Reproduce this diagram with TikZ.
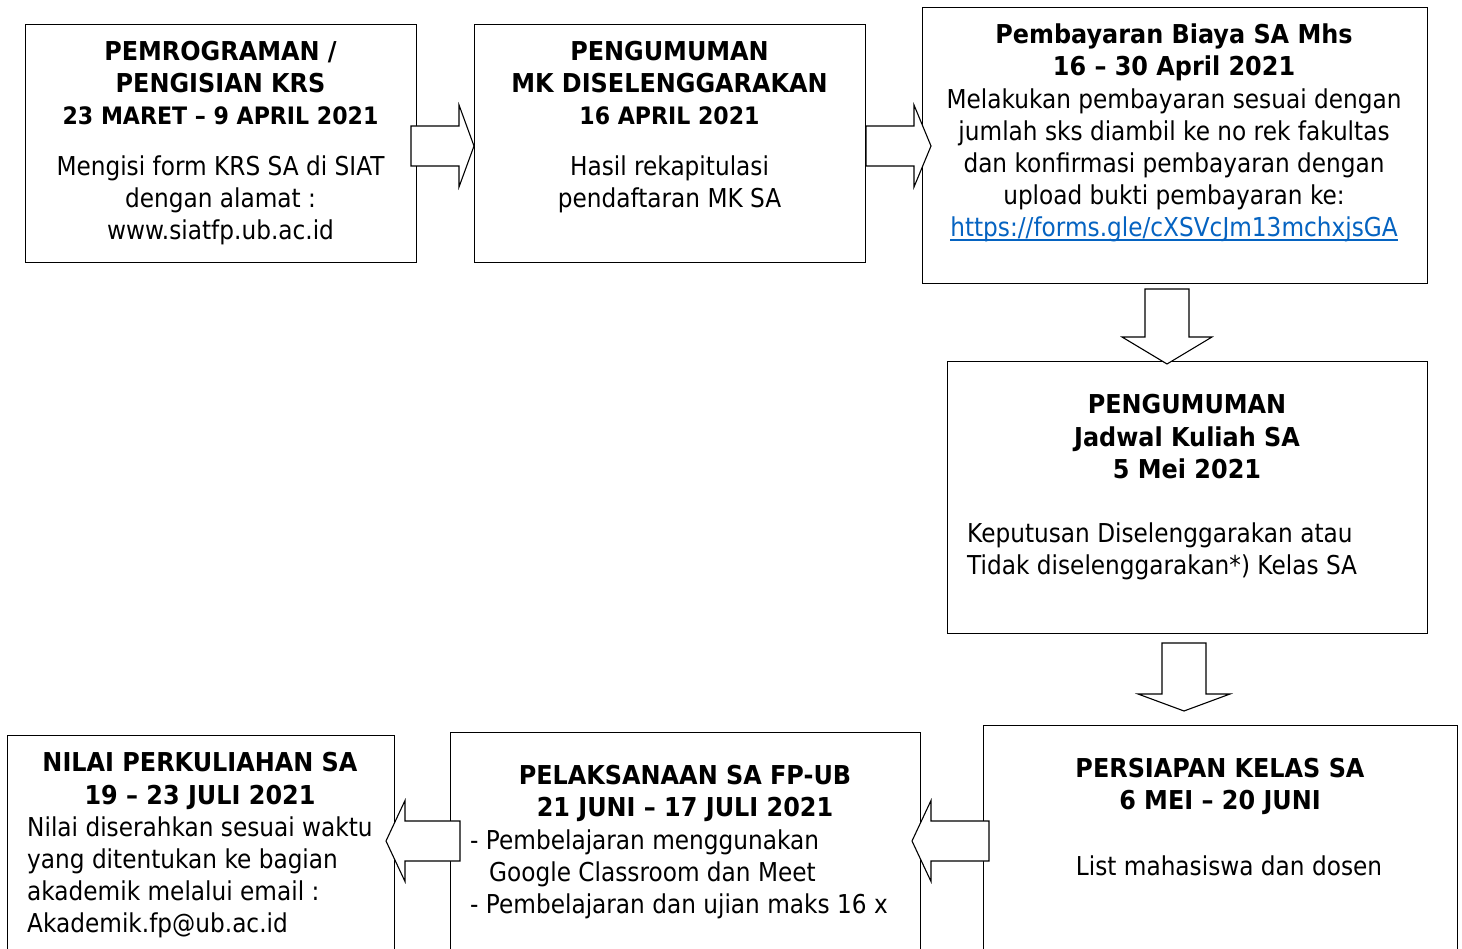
\documentclass[tikz,border=0pt]{standalone}
\usepackage{fontspec}
\setmainfont{DejaVu Sans}[UprightFeatures={FakeStretch=0.893}, BoldFeatures={FakeStretch=0.92}]
\definecolor{linkblue}{HTML}{0563C1}
\tikzset{
  box/.style={draw=black, line width=1.2pt, fill=white, inner sep=0pt, anchor=north west},
  blk/.style={draw=black, line width=1.1pt, fill=white, line join=miter},
  ttl/.style={inner sep=0pt, anchor=north, align=center, font=\fontsize{26}{32}\selectfont\bfseries},
  txt/.style={inner sep=0pt, anchor=north, align=center, font=\fontsize{26}{32}\selectfont},
  ltxt/.style={inner sep=0pt, anchor=north west, align=left, font=\fontsize{26}{32}\selectfont},
}
\newcommand\blkH[6]{% x0 xbase xtip yc shafthalf headhalf
  \draw[blk] (#1,{#4-#5}) -- (#2,{#4-#5}) -- (#2,{#4-#6}) -- (#3,#4) -- (#2,{#4+#6}) -- (#2,{#4+#5}) -- (#1,{#4+#5}) -- cycle;}
\newcommand\blkV[6]{% y0 ybase ytip xc shafthalf headhalf
  \draw[blk] ({#4-#5},#1) -- ({#4-#5},#2) -- ({#4-#6},#2) -- (#4,#3) -- ({#4+#6},#2) -- ({#4+#5},#2) -- ({#4+#5},#1) -- cycle;}
\newcommand\fl{\rule{0pt}{24pt}}
\newcommand\ulink[1]{\textcolor{linkblue}{\setbox0\hbox{#1}\rlap{\rule[-4pt]{\wd0}{1.6pt}}\box0}}
\begin{document}
\begin{tikzpicture}[x=1pt,y=-1pt]
\useasboundingbox (0,0) rectangle (1462,949);
\fill[white] (0,0) rectangle (1462,949);
\clip (0,0) rectangle (1462,949);

% boxes
\node[box, minimum width=391pt, minimum height=238pt] (b1) at (25,24) {};
\node[box, minimum width=391pt, minimum height=238pt] (b2) at (474,24) {};
\node[box, minimum width=505pt, minimum height=276pt] (b3) at (922,7) {};
\node[box, minimum width=480pt, minimum height=272pt] (b4) at (947,361) {};
\node[box, minimum width=474pt, minimum height=260pt] (b5) at (983,725) {};
\node[box, minimum width=470pt, minimum height=250pt] (b6) at (450,732) {};
\node[box, minimum width=387pt, minimum height=250pt] (b7) at (7,735) {};

% block arrows
\blkH{411}{459}{474}{146}{20}{41}
\blkH{866}{914}{931}{146}{20}{41}
\blkV{289}{337}{364}{1167}{22}{45}
\blkV{643}{694}{711}{1184}{22}{46}
\blkH{460}{405}{386}{841}{20}{40.5}
\blkH{989}{931}{912}{841}{20}{40.5}

% texts
\node[ttl] (t1) at (220.5,36.5) {\fl PEMROGRAMAN /\\PENGISIAN KRS\\{\fontsize{24}{32}\selectfont 23 MARET – 9 APRIL 2021}};
\node[txt] (t1b) at (220.5,151.5) {\fl Mengisi form KRS SA di SIAT\\dengan alamat :\\www.siatfp.ub.ac.id};

\node[ttl] (t2) at (669.5,36.5) {\fl PENGUMUMAN\\MK DISELENGGARAKAN\\{\fontsize{24}{32}\selectfont 16 APRIL 2021}};
\node[txt] (t2b) at (669.5,151.5) {\fl Hasil rekapitulasi\\pendaftaran MK SA};

\node[txt, font=\fontsize{26}{32.2}\selectfont] (t3) at (1174,19.5) {\fl\textbf{Pembayaran Biaya SA Mhs}\\\textbf{16 – 30 April 2021}\\Melakukan pembayaran sesuai dengan\\jumlah sks diambil ke no rek fakultas\\dan konfirmasi pembayaran dengan\\upload bukti pembayaran ke:\\\ulink{https://forms.gle/cXSVcJm13mchxjsGA}};

\node[ttl, font=\fontsize{26}{32.5}\selectfont\bfseries] (t4) at (1187,389.5) {\fl PENGUMUMAN\\Jadwal Kuliah SA\\5 Mei 2021};
\node[ltxt] (t4b) at (967,518.5) {\fl Keputusan Diselenggarakan atau\\Tidak diselenggarakan*) Kelas SA};

\node[ttl] (t5) at (1220,753.5) {\fl PERSIAPAN KELAS SA\\6 MEI – 20 JUNI};
\node[txt] (t5b) at (1229,851.5) {\fl List mahasiswa dan dosen};

\node[ttl] (t6) at (685,760.5) {\fl PELAKSANAAN SA FP-UB\\21 JUNI – 17 JULI 2021};
\node[ltxt] (t6b) at (470,825.5) {\fl - Pembelajaran menggunakan\\\hspace*{19pt}Google Classroom dan Meet\\- Pembelajaran dan ujian maks 16 x};

\node[ttl, font=\fontsize{26}{33}\selectfont\bfseries] (t7) at (200,747.5) {\fl NILAI PERKULIAHAN SA\\19 – 23 JULI 2021};
\node[ltxt] (t7b) at (27,812.5) {\fl Nilai diserahkan sesuai waktu\\yang ditentukan ke bagian\\akademik melalui email :\\Akademik.fp@ub.ac.id};
\end{tikzpicture}
\end{document}
